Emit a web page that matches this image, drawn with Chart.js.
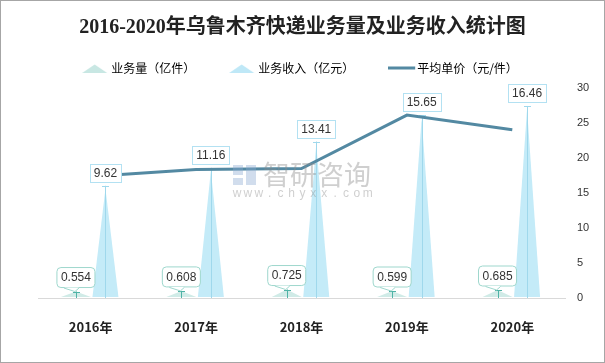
<!DOCTYPE html>
<html>
<head>
<meta charset="utf-8">
<script src="https://cdn.jsdelivr.net/npm/chart.js@4.4.0/dist/chart.umd.min.js"></script>
<style>
  html, body { margin: 0; padding: 0; background: #fff; }
  #wrap { width: 605px; height: 363px; position: relative; }
</style>
</head>
<body>
<div id="wrap"><canvas id="chart"></canvas></div>
<script>
const years = ['2016年', '2017年', '2018年', '2019年', '2020年'];
const volume = [0.554, 0.608, 0.725, 0.599, 0.685];     // 业务量（亿件）
const revenue = [9.62, 11.16, 13.41, 15.65, 16.46];     // 业务收入（亿元）
const unitPrice = [17.36, 18.36, 18.50, 26.13, 24.03];  // 平均单价（元/件）
const priceTicks = [0, 5, 10, 15, 20, 25, 30];

const CJK = '"Noto Sans CJK SC", "Noto Sans", sans-serif';
const NUM = '"Liberation Sans", Arial, sans-serif';

// little pictures for the legend
function legendIcon(kind, color) {
  const c = document.createElement('canvas');
  c.width = 28; c.height = 10;
  const g = c.getContext('2d');
  g.fillStyle = color;
  if (kind === 'line') {
    g.fillRect(0, 3.5, 27, 3);
  } else {
    g.beginPath();
    g.moveTo(0, 10); g.lineTo(12.5, 1.5); g.lineTo(25, 10);
    g.closePath(); g.fill();
  }
  return c;
}
const icons = [
  legendIcon('tri', '#c8e7e3'),
  legendIcon('tri', '#bfe8f7'),
  legendIcon('line', '#5389a2')
];

function roundBox(ctx, x, y, w, h, r) {
  ctx.beginPath();
  ctx.moveTo(x + r, y);
  ctx.arcTo(x + w, y, x + w, y + h, r);
  ctx.arcTo(x + w, y + h, x, y + h, r);
  ctx.arcTo(x, y + h, x, y, r);
  ctx.arcTo(x, y, x + w, y, r);
  ctx.closePath();
}

const spikes = {
  id: 'spikes',
  beforeDatasetsDraw(chart) {
    const ctx = chart.ctx;
    const styles = [
      { half: 15, fill: '#d0ebe7', stem: '#4fb3a6' },
      { half: 13, fill: '#c4ebf8', stem: '#9fd8ec' }
    ];
    styles.forEach((st, di) => {
      chart.getDatasetMeta(di).data.forEach(el => {
        const p = el.getProps(['x', 'y', 'base'], true);
        ctx.save();
        ctx.fillStyle = st.fill;
        ctx.beginPath();
        ctx.moveTo(p.x - st.half, p.base - 1);
        ctx.lineTo(p.x, p.y + (di === 1 ? 3 : 0));
        ctx.lineTo(p.x + st.half, p.base - 1);
        ctx.closePath();
        ctx.fill();
        ctx.strokeStyle = st.stem;
        ctx.lineWidth = 1;
        ctx.beginPath();
        ctx.moveTo(Math.round(p.x) + 0.5, p.base);
        ctx.lineTo(Math.round(p.x) + 0.5, p.y);
        ctx.moveTo(Math.round(p.x) - 3, Math.round(p.y) + 0.5);
        ctx.lineTo(Math.round(p.x) + 4, Math.round(p.y) + 0.5);
        ctx.stroke();
        ctx.restore();
      });
    });
  },
  afterDatasetsDraw(chart) {
    const ctx = chart.ctx;
    ctx.save();
    ctx.font = '12px ' + NUM;
    ctx.textAlign = 'center';
    ctx.textBaseline = 'middle';
    // 业务量 callouts
    chart.getDatasetMeta(0).data.forEach((el, i) => {
      const p = el.getProps(['x', 'y'], true);
      const txt = String(volume[i]);
      const w = ctx.measureText(txt).width + 8, h = 20;
      const left = p.x - w / 2, bottom = p.y - 4, top = bottom - h;
      roundBox(ctx, left, top, w, h, 4);
      ctx.fillStyle = '#fff';
      ctx.fill();
      ctx.strokeStyle = '#9ed7cd';
      ctx.lineWidth = 1;
      ctx.stroke();
      ctx.beginPath();
      ctx.moveTo(p.x - 12, bottom);
      ctx.lineTo(p.x - 1, p.y);
      ctx.lineTo(p.x + 3, bottom);
      ctx.closePath();
      ctx.fill();
      ctx.beginPath();
      ctx.moveTo(p.x - 12, bottom + 0.5);
      ctx.lineTo(p.x - 1, p.y);
      ctx.lineTo(p.x + 3, bottom + 0.5);
      ctx.stroke();
      ctx.fillStyle = '#333';
      ctx.fillText(txt, p.x, top + h / 2 + 0.5);
    });
    // 业务收入 boxes
    chart.getDatasetMeta(1).data.forEach((el, i) => {
      const p = el.getProps(['x', 'y'], true);
      const txt = revenue[i].toFixed(2);
      const w = Math.round(ctx.measureText(txt).width + 8), h = 18;
      const left = Math.round(p.x - w / 2) + 0.5, top = Math.round(p.y - 4 - h) + 0.5;
      ctx.fillStyle = '#fff';
      ctx.fillRect(left, top, w, h);
      ctx.strokeStyle = '#b3e1f2';
      ctx.lineWidth = 1;
      ctx.strokeRect(left, top, w, h);
      ctx.fillStyle = '#333';
      ctx.fillText(txt, p.x, top + h / 2 + 0.5);
    });
    ctx.restore();
  },
  afterDraw(chart) {
    const ctx = chart.ctx;
    ctx.save();
    // watermark on top
    ctx.fillStyle = 'rgba(140,140,140,0.42)';
    ctx.font = '27px ' + CJK;
    ctx.textBaseline = 'middle';
    ctx.textAlign = 'left';
    ctx.fillText('智研咨询', 263, 175);
    ctx.font = '12px ' + NUM;
    ctx.textAlign = 'center';
    'www.chyxx.com'.split('').forEach((ch, i) => ctx.fillText(ch, 237 + i * 10.9, 194));
    ctx.fillStyle = 'rgba(140,170,210,0.4)';
    ctx.fillRect(233, 165, 10, 10);
    ctx.fillRect(246, 165, 10, 20);
    ctx.fillRect(233, 178, 10, 7);
    // outer frame
    ctx.strokeStyle = '#a6a6a6';
    ctx.lineWidth = 1;
    ctx.strokeRect(0.5, 0.5, chart.width - 1, chart.height - 1);
    ctx.restore();
  }
};

new Chart(document.getElementById('chart'), {
  type: 'bar',
  data: {
    labels: years,
    datasets: [
      {
        label: '业务量（亿件）',
        data: volume,
        yAxisID: 'yL',
        backgroundColor: 'rgba(0,0,0,0)',
        borderWidth: 0,
        categoryPercentage: 0.56,
        barPercentage: 1
      },
      {
        label: '业务收入（亿元）',
        data: revenue,
        yAxisID: 'yL',
        backgroundColor: 'rgba(0,0,0,0)',
        borderWidth: 0,
        categoryPercentage: 0.56,
        barPercentage: 1
      },
      {
        type: 'line',
        label: '平均单价（元/件）',
        data: unitPrice,
        yAxisID: 'y',
        borderColor: '#5389a2',
        borderWidth: 3,
        pointRadius: 0,
        tension: 0,
        fill: false
      }
    ]
  },
  options: {
    responsive: true,
    maintainAspectRatio: false,
    animation: false,
    layout: { padding: 0 },
    plugins: {
      tooltip: { enabled: false },
      title: {
        display: true,
        text: '2016-2020年乌鲁木齐快递业务量及业务收入统计图',
        color: '#222',
        font: { size: 20, weight: 'bold', family: '"Liberation Serif", "Noto Sans CJK SC", serif', lineHeight: 1.2 },
        padding: { top: 16, bottom: -17 }
      },
      subtitle: {
        display: true,
        text: '',
        weight: 500,
        font: { size: 4, lineHeight: 1 },
        padding: 0
      },
      legend: {
        display: true,
        labels: {
          usePointStyle: true,
          pointStyleWidth: 18,
          padding: 39,
          color: '#333',
          font: { size: 12, family: CJK },
          generateLabels: chart => chart.data.datasets.map((ds, i) => ({
            text: ds.label,
            pointStyle: icons[i],
            fillStyle: 'rgba(0,0,0,0)',
            strokeStyle: 'rgba(0,0,0,0)',
            lineWidth: 0,
            hidden: false,
            datasetIndex: i
          }))
        }
      }
    },
    scales: {
      x: {
        grid: { display: false, drawTicks: false },
        border: { color: '#d9d9d9' },
        ticks: { color: '#222', padding: 21, font: { size: 13, weight: 'bold', family: CJK } },
        afterFit: s => { s.height = 65; }
      },
      yL: {
        display: false,
        position: 'left',
        min: 0,
        max: 18,
        afterFit: s => { s.width = 38; }
      },
      y: {
        position: 'right',
        min: priceTicks[0],
        max: priceTicks[priceTicks.length - 1],
        grid: { display: false, drawTicks: false },
        border: { display: false },
        ticks: { stepSize: priceTicks[1] - priceTicks[0], padding: 12, color: '#333', font: { size: 11, family: NUM } },
        afterFit: s => { s.width = 40; }
      }
    }
  },
  plugins: [spikes]
});
</script>
</body>
</html>
